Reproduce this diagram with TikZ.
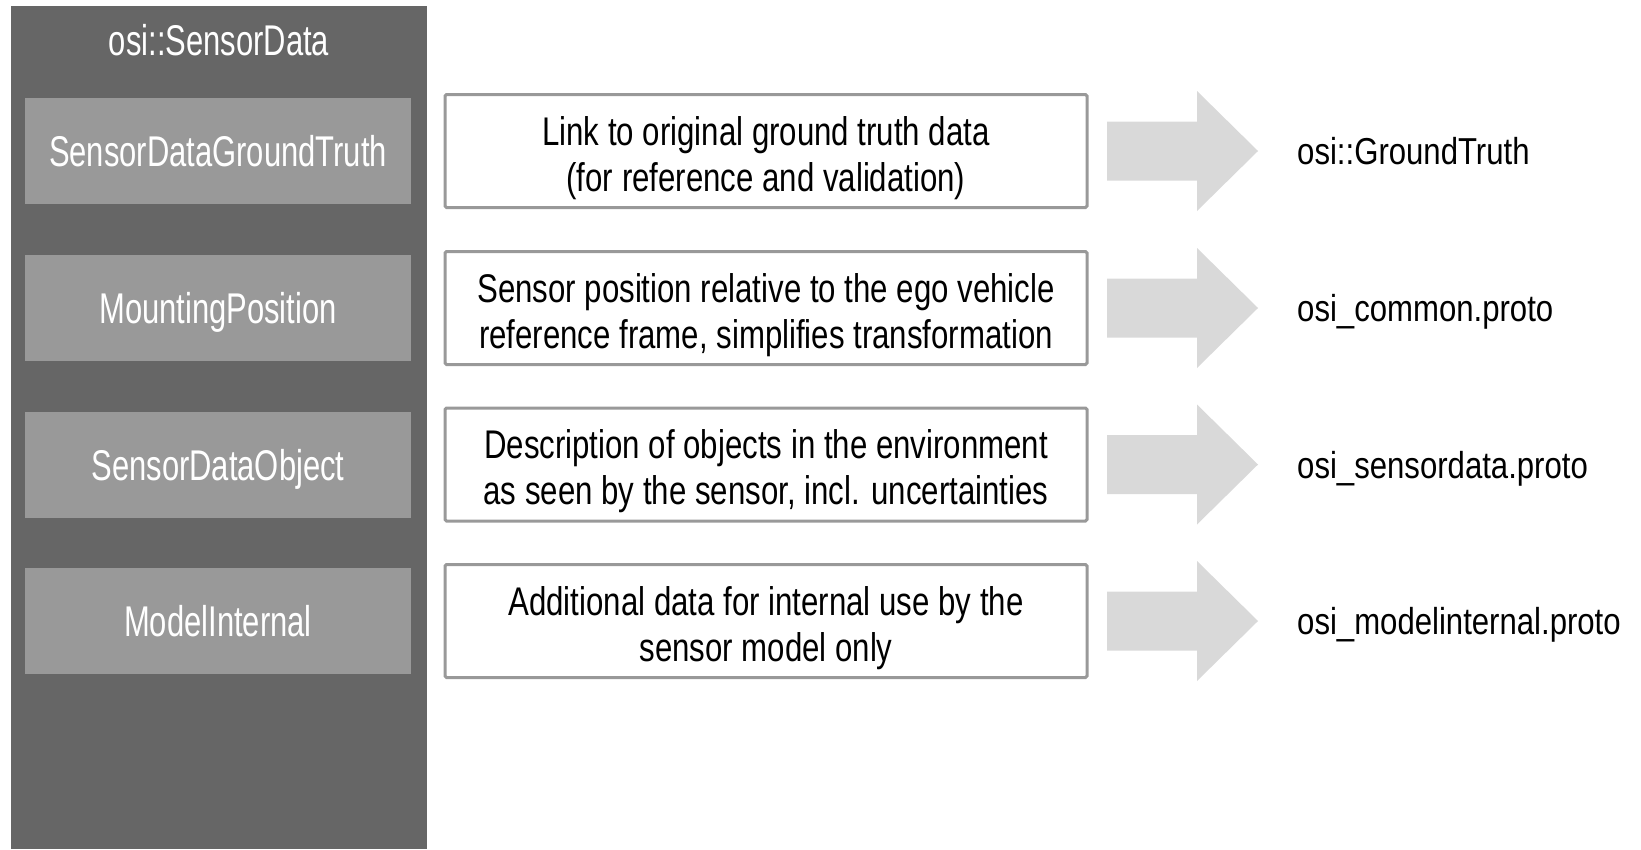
\documentclass[tikz,border=0pt]{standalone}
\usepackage{fontspec}
\setmainfont{Liberation Sans}
\newfontfamily\leftfont[FakeStretch=0.72]{Liberation Sans}
\newfontfamily\descfont[FakeStretch=0.78]{Liberation Sans}
\newfontfamily\protofont[FakeStretch=0.83]{Liberation Sans}
\definecolor{panelgray}{HTML}{666666}
\definecolor{boxgray}{HTML}{999999}
\definecolor{arrowgray}{HTML}{D9D9D9}
\begin{document}
\begin{tikzpicture}[x=1pt,y=-1pt,
  whitetext/.style={text=white, text height=31pt, text depth=0pt,
    font=\leftfont\fontsize{43}{50}\selectfont},
  member/.style={whitetext, fill=boxgray, draw=none, minimum width=386pt, minimum height=106pt,
    inner sep=0pt},
  descbox/.style={fill=white, draw=boxgray, line width=3pt, rounded corners=1.5pt,
    minimum width=642pt, minimum height=113pt, inner sep=0pt},
  desctext/.style={align=center, inner sep=0pt, font=\descfont\fontsize{40}{46}\selectfont},
  protolabel/.style={anchor=base west, inner sep=0pt, font=\protofont\fontsize{37.5}{44}\selectfont},
  bigarrow/.style={fill=arrowgray, draw=none}
]
\useasboundingbox (0,0) rectangle (1641,849);
% panel
\fill[panelgray] (11,6) rectangle (427,849);
\node[whitetext, inner sep=0pt] (title) at (219,40) {osi::SensorData};

\foreach \i/\y/\name/\desc/\proto in {
  1/151/SensorDataGroundTruth/{Link to original ground truth data\\(for reference and validation)}/osi::GroundTruth,
  2/308/MountingPosition/{Sensor position relative to the ego vehicle\\reference frame, simplifies transformation}/osi\_common.proto,
  3/464.5/SensorDataObject/{Description of objects in the environment\\as seen by the sensor, incl. uncertainties}/osi\_sensordata.proto,
  4/621/ModelInternal/{Additional data for internal use by the\\sensor model only}/osi\_modelinternal.proto}
{
  \node[member] (m\i) at (218,\y) {\name};
  \node[descbox] (d\i) at (766,\y) {};
  \node[desctext] (t\i) at ([yshift=-7pt]d\i.center) {\desc};
  \coordinate (a\i) at (1107,\y);
  \fill[bigarrow] (a\i) ++(0,-29.5) -- ++(90,0) -- ++(0,-30.5) -- ++(61,60) -- ++(-61,60)
     -- ++(0,-30.5) -- ++(-90,0) -- cycle;
  \node[protolabel] (p\i) at (1297,\y+13.5) {\proto};
}
\end{tikzpicture}
\end{document}
